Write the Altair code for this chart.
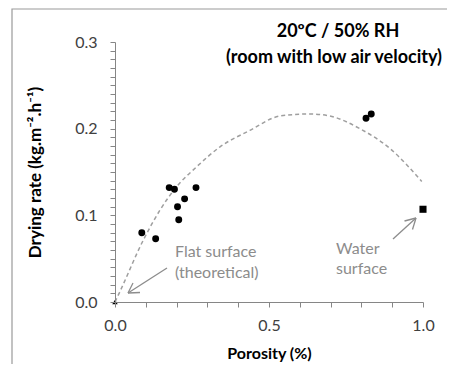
import altair as alt
import pandas as pd

# ---- data ----
sample_porosity = [0.087, 0.132, 0.176, 0.193, 0.203, 0.207, 0.226, 0.263, 0.815, 0.832]
sample_rate = [0.080, 0.073, 0.132, 0.130, 0.110, 0.095, 0.119, 0.132, 0.212, 0.217]

flat_porosity = [0.0]
flat_rate = [0.0]

water_porosity = [1.0]
water_rate = [0.107]

curve_porosity = [0.0, 0.016, 0.092, 0.146, 0.200, 0.265, 0.341, 0.438, 0.536, 0.633, 0.698, 0.795, 0.893, 0.996]
curve_rate = [0.0, 0.012, 0.0715, 0.106, 0.133, 0.156, 0.179, 0.198, 0.2146, 0.217, 0.2146, 0.200, 0.177, 0.139]

y_ticks = [round(i * 0.01, 2) for i in range(31)]
x_ticks = [round(i * 0.1, 1) for i in range(11)]

FONT = "Lato"
AXIS_GRAY = "#868686"
ANN_GRAY = "#8c8c8c"
LABEL_COLOR = "#404040"

W, H = 308, 260

samples = pd.DataFrame({"porosity": sample_porosity, "rate": sample_rate})
flat = pd.DataFrame({"porosity": flat_porosity, "rate": flat_rate})
water = pd.DataFrame({"porosity": water_porosity, "rate": water_rate})
curve = pd.DataFrame({"porosity": curve_porosity, "rate": curve_rate})

xscale = alt.Scale(domain=[0, 1], nice=False, zero=False)
yscale = alt.Scale(domain=[0, 0.3], nice=False, zero=False)

x_axis = alt.Axis(
    values=x_ticks,
    labelExpr="(round(datum.value*10) % 5 == 0) ? format(datum.value, '.1f') : ''",
    labelOverlap=False, labelFlush=False, grid=False, domain=True, ticks=True,
    domainColor=AXIS_GRAY, tickColor=AXIS_GRAY, domainWidth=1, tickWidth=1, zindex=1,
    tickSize=5, labelPadding=10, labelFontSize=16, labelColor=LABEL_COLOR, labelFont=FONT,
    title="Porosity (%)", titleFont=FONT, titleFontSize=16, titleFontWeight="bold",
    titleColor="#000000", titlePadding=12,
)
y_axis = alt.Axis(
    values=y_ticks,
    labelExpr="(round(datum.value*100) % 10 == 0) ? format(datum.value, '.1f') : ''",
    labelOverlap=False, labelFlush=False, grid=False, domain=True, ticks=True,
    domainColor=AXIS_GRAY, tickColor=AXIS_GRAY, domainWidth=1, tickWidth=1, zindex=1,
    tickSize=5, labelPadding=13, labelFontSize=16, labelColor=LABEL_COLOR, labelFont=FONT,
    title="Drying rate (kg.m⁻².h⁻¹)", titleFont=FONT, titleFontSize=17, titleFontWeight="bold",
    titleColor="#000000", titlePadding=30,
)

base_dummy = pd.DataFrame({"a": [0]})

border = alt.Chart(base_dummy).mark_rect(
    filled=False, stroke="#9a9a9a", strokeWidth=1.2, fillOpacity=0
).encode(
    x=alt.value(-103), x2=alt.value(600), y=alt.value(-33), y2=alt.value(600)
)

def pos():
    return dict(
        x=alt.X("porosity:Q", scale=xscale, axis=x_axis),
        y=alt.Y("rate:Q", scale=yscale, axis=y_axis),
    )

curve_layer = alt.Chart(curve).mark_line(
    color="#9f9f9f", strokeDash=[4, 3], strokeWidth=1.5, interpolate="monotone", clip=False
).encode(**pos())

points = alt.Chart(samples).mark_point(
    shape="circle", filled=True, color="#000000", size=48, opacity=1
).encode(**pos())

tri = alt.Chart(flat).mark_point(
    shape="triangle-up", filled=True, color="#000000", size=30, opacity=1, clip=False
).encode(**pos())

sq = alt.Chart(water).mark_point(
    shape="square", filled=True, color="#000000", size=50, opacity=1, clip=False
).encode(**pos())

def seg(x1, y1, x2, y2):
    return alt.Chart(base_dummy).mark_rule(color=ANN_GRAY, strokeWidth=1.3).encode(
        x=alt.value(x1), y=alt.value(y1), x2=alt.value(x2), y2=alt.value(y2)
    )

arrows = [
    # flat surface arrow
    seg(52, 226, 13, 251), seg(13, 251, 25, 250.5), seg(13, 251, 18, 241),
    # water surface arrow
    seg(278, 197, 301, 176), seg(301, 176, 289.5, 179), seg(301, 176, 297.5, 187.5),
]

def txt(text, x, y, color="#000000", weight="normal", size=14, align="left"):
    return alt.Chart(base_dummy).mark_text(
        text=text, font=FONT, fontSize=size, fontWeight=weight, color=color,
        align=align, baseline="middle"
    ).encode(x=alt.value(x), y=alt.value(y))

texts = [
    txt("20ºC / 50% RH", 223, -10, weight="bold", size=18, align="center"),
    txt("(room with low air velocity)", 219, 16, weight="bold", size=18, align="center"),
    txt("Flat surface", 60, 210, color=ANN_GRAY, size=16),
    txt("(theoretical)", 60, 231, color=ANN_GRAY, size=16),
    txt("Water", 221, 207, color=ANN_GRAY, size=16),
    txt("surface", 221, 227, color=ANN_GRAY, size=16),
]

chart = alt.layer(border, curve_layer, points, tri, sq, *arrows, *texts).properties(
    width=W, height=H,
    autosize=alt.AutoSizeParams(type="none"),
    padding={"left": 107, "top": 34, "right": 24, "bottom": 62},
).configure_view(stroke=None)

chart.save("out.html", embed_options={"renderer": "svg", "actions": False})
